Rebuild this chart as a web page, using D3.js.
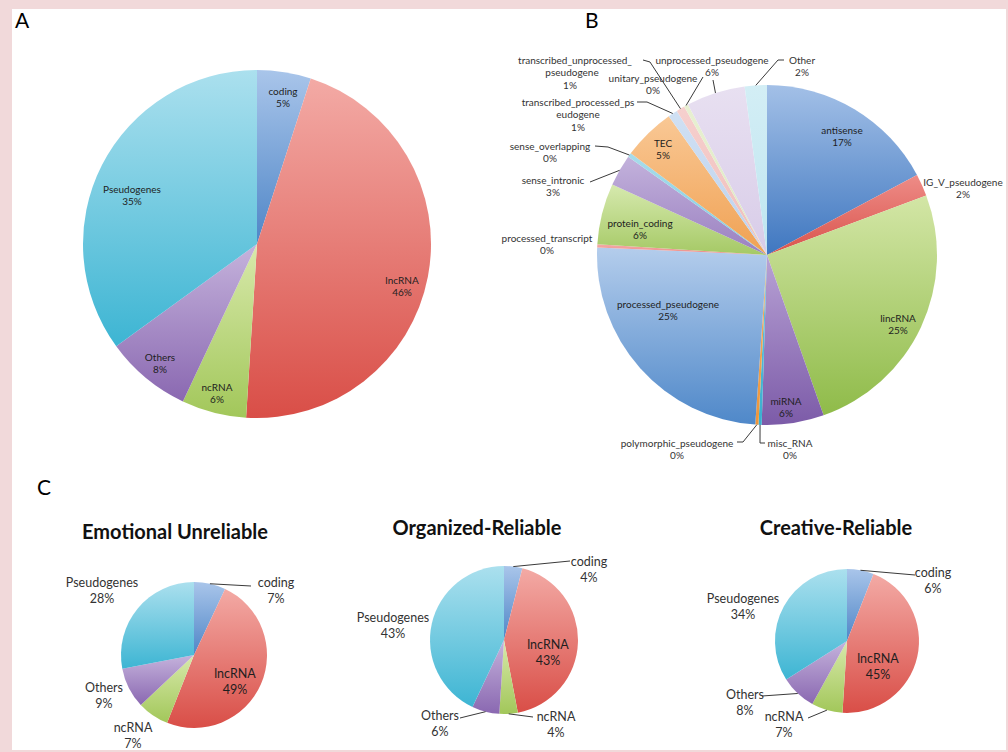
<!DOCTYPE html>
<html>
<head>
<meta charset="utf-8">
<script src="https://cdn.jsdelivr.net/npm/d3@7"></script>
<style>
  body { margin: 0; background: #f1d9da; }
  svg text { font-family: Lato, "Open Sans", sans-serif; }
</style>
</head>
<body>
<div id="fig"></div>
<script>

// ---- data ----
var fiveNames = ["coding", "lncRNA", "ncRNA", "Others", "Pseudogenes"];
var allGenesValues = [5, 46, 6, 8, 35];

var biotypeNames = ["antisense", "IG_V_pseudogene", "lincRNA", "miRNA", "misc_RNA",
  "polymorphic_pseudogene", "processed_pseudogene", "processed_transcript",
  "protein_coding", "sense_intronic", "sense_overlapping", "TEC",
  "transcribed_processed_pseudogene", "transcribed_unprocessed_pseudogene",
  "unitary_pseudogene", "unprocessed_pseudogene", "Other"];
var biotypeValues = [17.2, 2.1, 25.3, 5.9, 0.3, 0.3, 24.6, 0.3, 5.8, 3.0, 0.4, 5.0, 0.9, 0.8, 0.4, 5.6, 2.1];

var groupTitles = ["Emotional Unreliable", "Organized-Reliable", "Creative-Reliable"];
var emotionalValues = [7, 49, 7, 9, 28];
var organizedValues = [4, 43, 4, 6, 43];
var creativeValues = [6, 45, 7, 8, 34];

// ---- colours (top, bottom of each slice gradient) ----
var fiveColors = [
  ["#a9c5ea", "#4f86c7"],
  ["#f3aaa5", "#d94e47"],
  ["#d8e9ab", "#a2c75a"],
  ["#c5b3dc", "#8a68b1"],
  ["#abe0ee", "#3db5d3"]
];
var biotypeColors = [
  ["#a3c0e7", "#3f77c0"],
  ["#ee8c87", "#d9534c"],
  ["#d3e6a6", "#8fbb49"],
  ["#b8a2d5", "#7c5ba8"],
  ["#6cc6df", "#3aafcf"],
  ["#f6b26a", "#ee953a"],
  ["#b4cdec", "#4f88c9"],
  ["#f3aaa6", "#ec8b86"],
  ["#d6e9ae", "#a5c965"],
  ["#c3b2dc", "#9a80c0"],
  ["#a8dcea", "#7fcde3"],
  ["#f9c895", "#f0a153"],
  ["#d0e0f3", "#bcd2ee"],
  ["#f6d0ce", "#efbdba"],
  ["#e8f0d2", "#dde9c3"],
  ["#e8e0f1", "#d8cce8"],
  ["#d3eef5", "#bfe5f0"]
];

var svg = d3.select("#fig").append("svg")
  .attr("width", 1008)
  .attr("height", 752);

var defs = svg.append("defs");
var gradCount = 0;

svg.append("rect")
  .attr("x", 12).attr("y", 9)
  .attr("width", 994).attr("height", 741)
  .attr("fill", "#fff");

// panel letters
svg.append("text").attr("x", 15).attr("y", 28).attr("font-size", 21).text("A");
svg.append("text").attr("x", 585).attr("y", 28).attr("font-size", 21).text("B");
svg.append("text").attr("x", 37).attr("y", 495).attr("font-size", 21).text("C");

function drawPie(cx, cy, r, names, values, colors, layout, fontSize, lineGap) {
  var g = svg.append("g").attr("transform", "translate(" + cx + "," + cy + ")");
  var pie = d3.pie().sort(null).value(function(d) { return d; });
  var arcs = pie(values);
  var arc = d3.arc().innerRadius(0).outerRadius(r);
  var edge = d3.arc().innerRadius(r).outerRadius(r);

  var ids = colors.map(function(c) {
    var id = "grad" + (gradCount++);
    var lg = defs.append("linearGradient").attr("id", id)
      .attr("x1", 0).attr("y1", 0).attr("x2", 0).attr("y2", 1);
    lg.append("stop").attr("offset", "0%").attr("stop-color", c[0]);
    lg.append("stop").attr("offset", "100%").attr("stop-color", c[1]);
    return id;
  });

  g.selectAll("path.slice")
    .data(arcs)
    .enter()
    .append("path")
    .attr("class", "slice")
    .attr("d", arc)
    .attr("fill", function(d, i) { return "url(#" + ids[i] + ")"; });

  // leader lines
  arcs.forEach(function(d, i) {
    var L = layout[i];
    if (!L.leader) return;
    var p = edge.centroid(d);
    var pts = L.leader.concat([p]);
    g.append("path")
      .attr("d", d3.line()(pts))
      .attr("fill", "none")
      .attr("stroke", "#3a3a3a")
      .attr("stroke-width", 1);
  });

  // labels
  arcs.forEach(function(d, i) {
    var L = layout[i];
    var name = names[i];
    var lines = L.wrap ? [name.slice(0, L.wrap), name.slice(L.wrap)] : [name];
    lines.push(Math.round(values[i]) + "%");
    var t = g.append("text")
      .attr("text-anchor", "middle")
      .attr("font-size", fontSize)
      .attr("fill", L.inside ? "#1e1e1e" : "#333");
    lines.forEach(function(s, k) {
      t.append("tspan")
        .attr("x", L.x + ((L.xs && L.xs[k]) || 0))
        .attr("y", L.y + k * lineGap)
        .attr("dy", "0.35em")
        .text(s);
    });
  });
  return g;
}

// label layout (offsets from pie centre)
var layoutA = [
  {x: 26, y: -153, inside: true},
  {x: 145, y: 36, inside: true},
  {x: -40, y: 143, inside: true},
  {x: -97, y: 113, inside: true},
  {x: -125, y: -55, inside: true}
];

var layoutB = [
  {x: 75, y: -125, inside: true},
  {x: 196, y: -73},
  {x: 131, y: 63, inside: true},
  {x: 19, y: 146, inside: true},
  {x: 23, y: 188, leader: [[-2, 188], [-7, 188]]},
  {x: -90, y: 188, leader: [[-30, 187], [-24, 187]]},
  {x: -99, y: 49, inside: true},
  {x: -220, y: -17},
  {x: -127, y: -32, inside: true},
  {x: -214, y: -75, leader: [[-177, -73], [-167, -77]]},
  {x: -217, y: -109, leader: [[-172, -109], [-159, -108]]},
  {x: -104, y: -112, inside: true},
  {x: -189, y: -153, wrap: 24, leader: [[-130, -153], [-120, -153]]},
  {x: -192, y: -195, wrap: 24, xs: [0, -3, -5], leader: [[-124, -195], [-117, -193]]},
  {x: -114, y: -177, leader: [[-64, -178]]},
  {x: -55, y: -195, leader: [[-54, -175]]},
  {x: 35, y: -195, leader: [[17, -195], [11, -195]]}
];

var layoutC1 = [
  {x: 82, y: -72, leader: [[57, -69]]},
  {x: 41, y: 19, inside: true},
  {x: -61, y: 73},
  {x: -90, y: 33},
  {x: -92, y: -72}
];
var layoutC2 = [
  {x: 85, y: -78, leader: [[66, -79]]},
  {x: 44, y: 5, inside: true},
  {x: 52, y: 77, leader: [[29, 77]]},
  {x: -64, y: 76, leader: [[-44, 78], [-36, 76]]},
  {x: -111, y: -22}
];
var layoutC3 = [
  {x: 86, y: -68, leader: [[68, -66]]},
  {x: 31, y: 18, inside: true},
  {x: -63, y: 76, leader: [[-39, 77]]},
  {x: -102, y: 54, leader: [[-85, 55]]},
  {x: -104, y: -42}
];

drawPie(257, 244, 174, fiveNames, allGenesValues, fiveColors, layoutA, 10, 12.5);
drawPie(767, 255, 170, biotypeNames, biotypeValues, biotypeColors, layoutB, 10, 12.5);

var groupCenters = [[194, 655, 73], [504, 640, 74], [847, 641, 72]];
var groupValues = [emotionalValues, organizedValues, creativeValues];
var groupLayouts = [layoutC1, layoutC2, layoutC3];
var titleX = [175, 477, 836];
var titleY = [532, 528, 528];

groupTitles.forEach(function(title, i) {
  svg.append("text")
    .attr("x", titleX[i])
    .attr("y", titleY[i])
    .attr("dy", "0.35em")
    .attr("text-anchor", "middle")
    .attr("font-size", 20)
    .attr("font-weight", "bold")
    .attr("fill", "#111")
    .text(title);
  var c = groupCenters[i];
  drawPie(c[0], c[1], c[2], fiveNames, groupValues[i], fiveColors, groupLayouts[i], 12.5, 15.5);
});

</script>
</body>
</html>
